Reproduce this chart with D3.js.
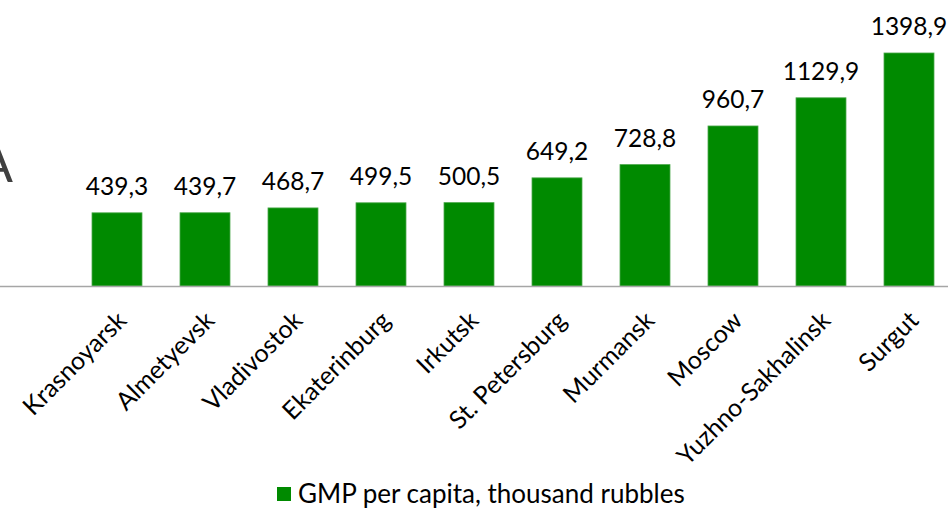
<!DOCTYPE html>
<html>
<head>
<meta charset="utf-8">
<script src="https://cdn.jsdelivr.net/npm/d3@7"></script>
<style>
  html, body { margin: 0; padding: 0; background: #fff; }
  svg { display: block; font-family: Lato, "Open Sans", sans-serif; }
</style>
</head>
<body>
<svg id="chart" width="948" height="510"></svg>
<script>
// GMP per capita by city, thousand rubbles
const cities = ["Krasnoyarsk", "Almetyevsk", "Vladivostok", "Ekaterinburg", "Irkutsk",
                "St. Petersburg", "Murmansk", "Moscow", "Yuzhno-Sakhalinsk", "Surgut"];
const gmpPerCapita = [439.3, 439.7, 468.7, 499.5, 500.5, 649.2, 728.8, 960.7, 1129.9, 1398.9];
const seriesName = "GMP per capita, thousand rubbles";
const titleText = "A";

const svg = d3.select("#chart");
const barColor = "#008a00";

const x = d3.scaleBand()
  .domain(cities)
  .range([73, 953])
  .paddingInner(0.432)
  .paddingOuter(0.216);

const y = d3.scaleLinear()
  .domain([0, 1600])
  .range([286, 19.5]);

const fmt = v => d3.format(".1f")(v).replace(".", ",");

// title, running off the left edge
svg.append("text")
  .attr("x", 13).attr("y", 182)
  .attr("text-anchor", "end")
  .attr("font-size", 52)
  .attr("font-weight", 400)
  .attr("fill", "#404040")
  .text(titleText);

// bars
svg.append("g").selectAll("rect")
  .data(cities)
  .join("rect")
  .attr("x", d => x(d))
  .attr("y", (d, i) => y(gmpPerCapita[i]))
  .attr("width", x.bandwidth())
  .attr("height", (d, i) => y(0) - y(gmpPerCapita[i]))
  .attr("fill", barColor)
  .attr("stroke", "#4aa84a")
  .attr("stroke-width", 0.8);

// category axis
const xAxis = svg.append("g")
  .attr("transform", `translate(0,${y(0)})`)
  .call(d3.axisBottom(x).tickSize(0).tickPadding(0));
xAxis.select(".domain")
  .attr("d", "M-1,0.5H948")
  .attr("stroke", "#a6a6a6")
  .attr("stroke-width", 1.5);
xAxis.selectAll(".tick text")
  .attr("font-family", "Lato, 'Open Sans', sans-serif")
  .attr("font-size", 25)
  .attr("fill", "#000")
  .attr("text-anchor", "end")
  .attr("dy", null)
  .attr("y", 0)
  .attr("transform", "translate(11,36) rotate(-45)");

// value labels
svg.append("g").selectAll("text")
  .data(cities)
  .join("text")
  .attr("x", d => x(d) + x.bandwidth() / 2)
  .attr("y", (d, i) => y(gmpPerCapita[i]) - 18)
  .attr("text-anchor", "middle")
  .attr("font-size", 24.5)
  .attr("fill", "#000")
  .text((d, i) => fmt(gmpPerCapita[i]));

// legend
const legend = svg.append("g").attr("transform", "translate(277,487)");
legend.append("rect")
  .attr("width", 14).attr("height", 14)
  .attr("fill", barColor);
legend.append("text")
  .attr("x", 21).attr("y", 16)
  .attr("font-size", 26)
  .attr("fill", "#000")
  .text(seriesName);
</script>
</body>
</html>
